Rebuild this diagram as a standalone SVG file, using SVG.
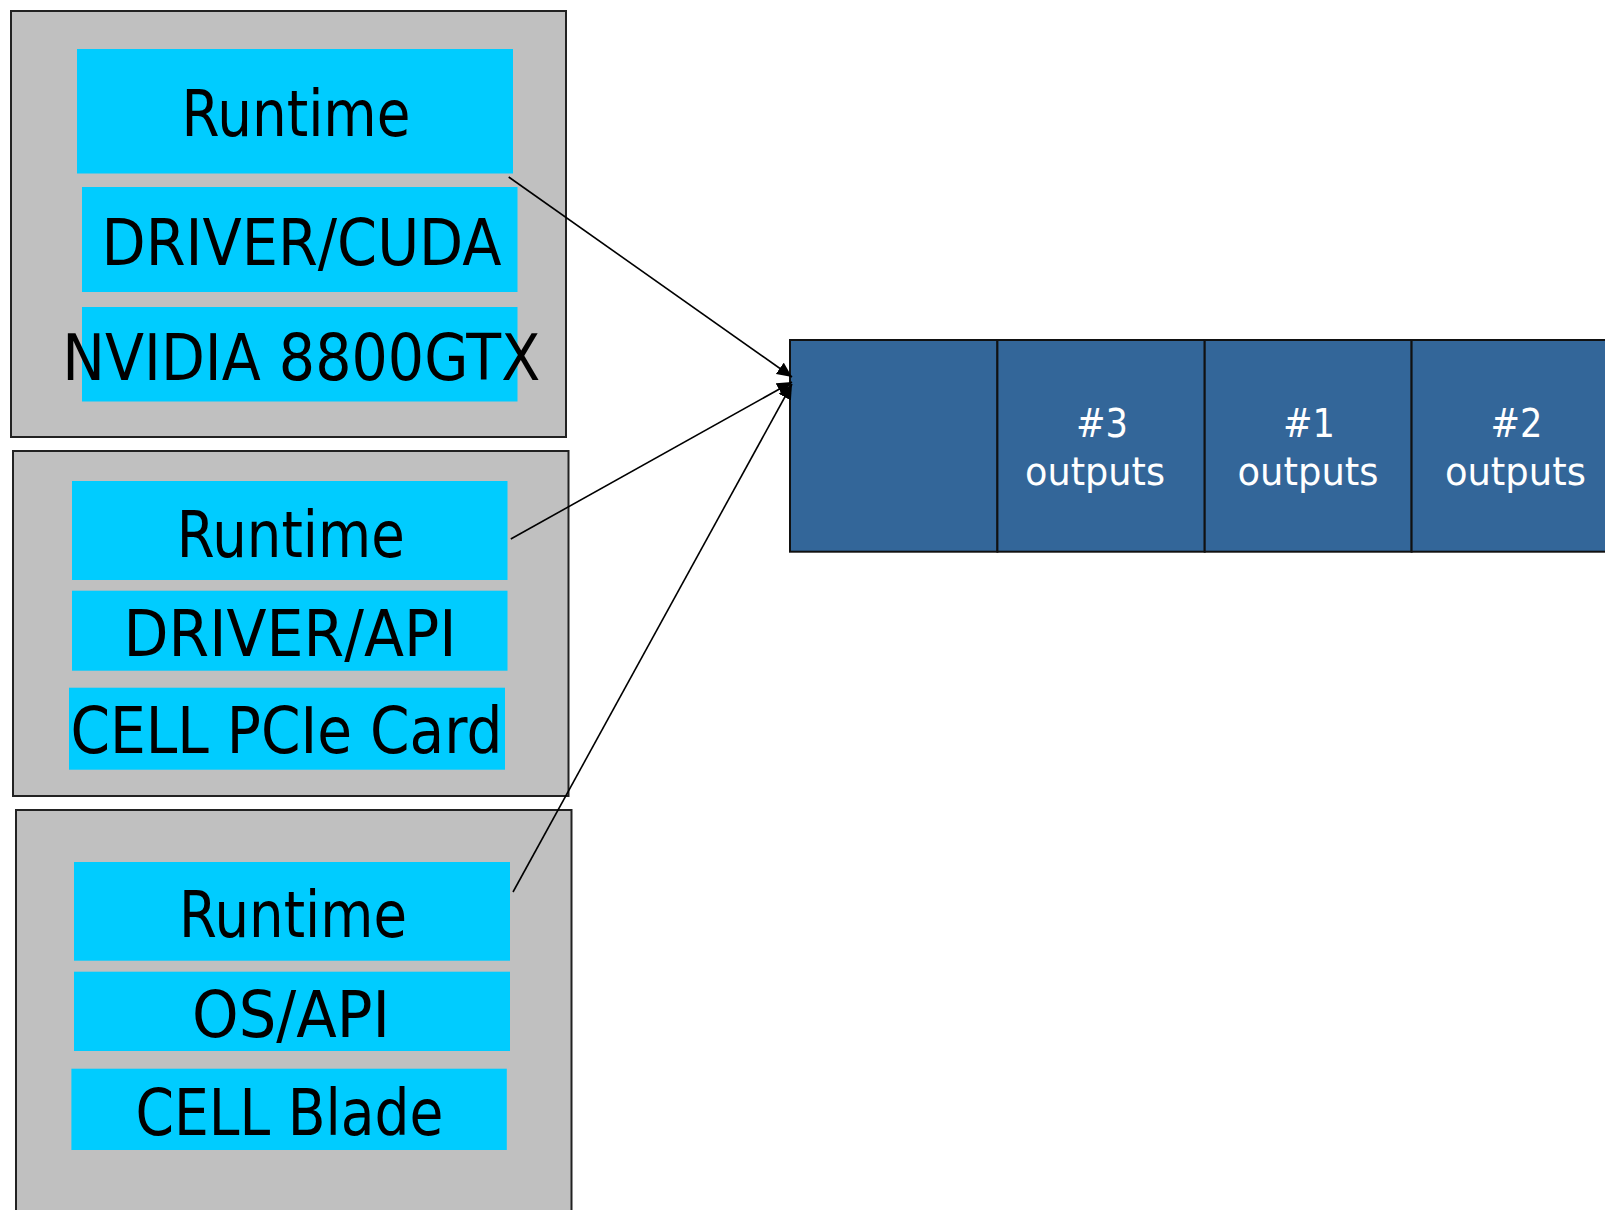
<svg xmlns="http://www.w3.org/2000/svg" width="1605" height="1210" viewBox="0 0 1605 1210">
<style>
.outer{fill:#c0c0c0;stroke:#222;stroke-width:2}
.layer{fill:#00ccff}
.lt{font-family:"DejaVu Sans","Liberation Sans",sans-serif;font-size:64px;fill:#000;text-anchor:middle}
.cell{fill:#336699;stroke:#111;stroke-width:2}
.wt{font-family:"DejaVu Sans","Liberation Sans",sans-serif;font-size:39px;fill:#fff;text-anchor:middle}
.conn{stroke:#000;stroke-width:1.6;fill:none;marker-end:url(#arr)}
</style>
<defs>
<marker id="arr" markerUnits="userSpaceOnUse" markerWidth="16" markerHeight="14" refX="15" refY="7" orient="auto">
<path d="M0,0 L15,7 L0,14 z" fill="#000"/>
</marker>
</defs>
<g id="node-nvidia">
<rect class="outer" x="11" y="11" width="555" height="426"/>
<rect class="layer" x="77" y="49" width="436" height="124.5"/>
<rect class="layer" x="82" y="187" width="435.5" height="105"/>
<rect class="layer" x="82" y="307" width="435.5" height="94.5"/>
<text class="lt" x="296" y="136" textLength="229" lengthAdjust="spacingAndGlyphs">Runtime</text>
<text class="lt" x="301.5" y="265" textLength="400" lengthAdjust="spacingAndGlyphs">DRIVER/CUDA</text>
<text class="lt" x="301.3" y="380" textLength="478" lengthAdjust="spacingAndGlyphs">NVIDIA 8800GTX</text>
</g>
<g id="node-cellpcie">
<rect class="outer" x="13" y="451" width="555.5" height="345"/>
<rect class="layer" x="72" y="481" width="435.5" height="99"/>
<rect class="layer" x="72" y="590.7" width="435.5" height="80"/>
<rect class="layer" x="69" y="687.7" width="436" height="82"/>
<text class="lt" x="290.8" y="556.5" textLength="228" lengthAdjust="spacingAndGlyphs">Runtime</text>
<text class="lt" x="290" y="656" textLength="333" lengthAdjust="spacingAndGlyphs">DRIVER/API</text>
<text class="lt" x="286.5" y="753.3" textLength="432" lengthAdjust="spacingAndGlyphs">CELL PCIe Card</text>
</g>
<g id="node-cellblade">
<rect class="outer" x="16" y="810" width="555.5" height="420"/>
<rect class="layer" x="74" y="862" width="436" height="98.7"/>
<rect class="layer" x="74" y="971.7" width="436" height="79.3"/>
<rect class="layer" x="71.4" y="1068.7" width="435.4" height="81.3"/>
<text class="lt" x="293" y="936.5" textLength="228" lengthAdjust="spacingAndGlyphs">Runtime</text>
<text class="lt" x="291" y="1036.5" textLength="198" lengthAdjust="spacingAndGlyphs">OS/API</text>
<text class="lt" x="289.5" y="1135" textLength="308" lengthAdjust="spacingAndGlyphs">CELL Blade</text>
</g>
<g id="node-outputs">
<rect class="cell" x="790" y="340" width="207.4" height="211.7"/>
<rect class="cell" x="997.4" y="340" width="207.3" height="211.7"/>
<rect class="cell" x="1204.7" y="340" width="206.9" height="211.7"/>
<rect class="cell" x="1411.6" y="340" width="207.4" height="211.7"/>
<text class="wt" x="1102" y="437" textLength="52" lengthAdjust="spacingAndGlyphs">#3</text>
<text class="wt" x="1095" y="485" textLength="140" lengthAdjust="spacingAndGlyphs">outputs</text>
<text class="wt" x="1309" y="437" textLength="52" lengthAdjust="spacingAndGlyphs">#1</text>
<text class="wt" x="1308" y="485" textLength="141" lengthAdjust="spacingAndGlyphs">outputs</text>
<text class="wt" x="1516.4" y="437" textLength="52" lengthAdjust="spacingAndGlyphs">#2</text>
<text class="wt" x="1515.4" y="485" textLength="141" lengthAdjust="spacingAndGlyphs">outputs</text>
</g>
<g id="connectors">
<line class="conn" x1="508.7" y1="177" x2="792" y2="377"/>
<line class="conn" x1="510.8" y1="539" x2="792" y2="382"/>
<line class="conn" x1="513" y1="892" x2="792" y2="384"/>
</g>
</svg>
